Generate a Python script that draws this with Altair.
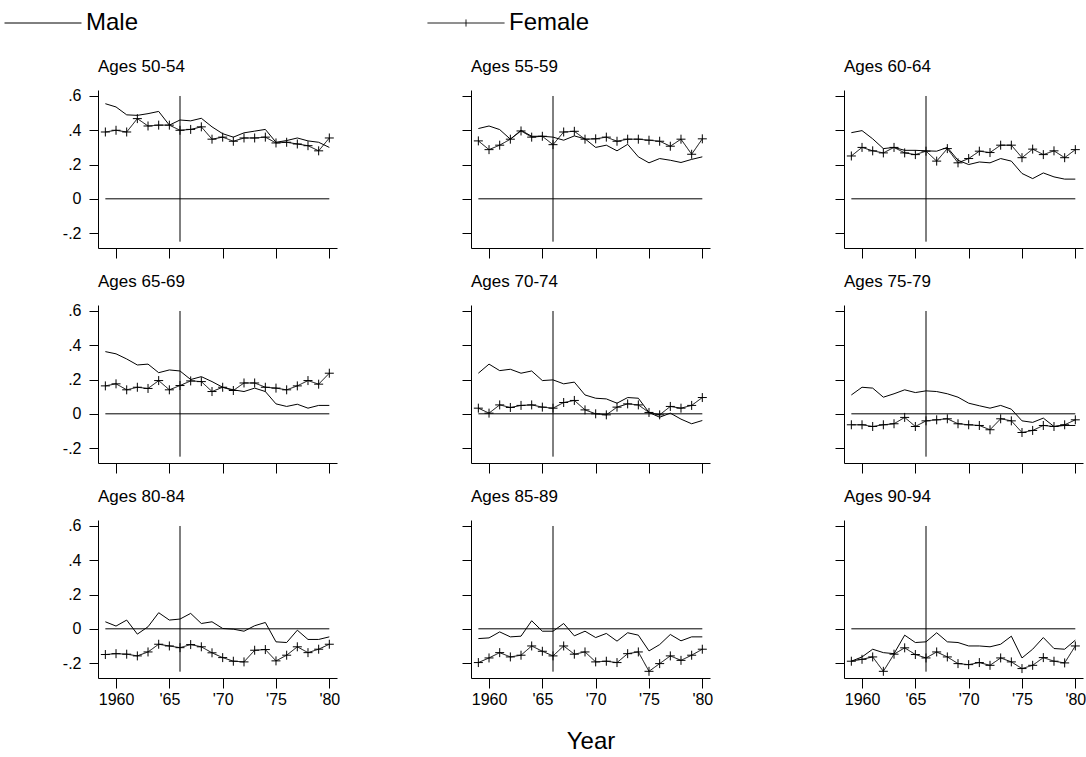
import altair as alt
import pandas as pd

FONT = "Liberation Sans, Arial, sans-serif"

YEARS = list(range(1959, 1981))
GROUPS = ["Ages 50-54", "Ages 55-59", "Ages 60-64",
          "Ages 65-69", "Ages 70-74", "Ages 75-79",
          "Ages 80-84", "Ages 85-89", "Ages 90-94"]
SERIES = ["Male", "Female"]

male_50_54 = [0.555, 0.536, 0.49, 0.487, 0.497, 0.51, 0.43, 0.46, 0.455, 0.47, 0.42,
              0.38, 0.36, 0.385, 0.395, 0.405, 0.33, 0.34, 0.355, 0.338, 0.33, 0.30]
female_50_54 = [0.39, 0.40, 0.39, 0.468, 0.425, 0.43, 0.43, 0.40, 0.405, 0.42, 0.348,
                0.36, 0.336, 0.355, 0.355, 0.36, 0.326, 0.33, 0.32, 0.31, 0.28, 0.355]
male_55_59 = [0.41, 0.425, 0.404, 0.348, 0.40, 0.365, 0.365, 0.36, 0.342, 0.367, 0.35,
              0.30, 0.313, 0.28, 0.318, 0.245, 0.21, 0.235, 0.225, 0.212, 0.23, 0.245]
female_55_59 = [0.338, 0.287, 0.313, 0.348, 0.396, 0.36, 0.365, 0.316, 0.39, 0.394, 0.348,
                0.35, 0.36, 0.336, 0.348, 0.348, 0.342, 0.336, 0.307, 0.348, 0.26, 0.35]
male_60_64 = [0.386, 0.398, 0.35, 0.293, 0.30, 0.283, 0.283, 0.28, 0.278, 0.30, 0.225,
              0.20, 0.215, 0.21, 0.235, 0.22, 0.148, 0.118, 0.151, 0.128, 0.115, 0.115]
female_60_64 = [0.25, 0.30, 0.28, 0.268, 0.30, 0.268, 0.258, 0.278, 0.22, 0.293, 0.21,
                0.235, 0.278, 0.27, 0.313, 0.313, 0.24, 0.29, 0.258, 0.28, 0.24, 0.287]
male_65_69 = [0.363, 0.35, 0.32, 0.285, 0.29, 0.24, 0.256, 0.25, 0.20, 0.217, 0.188,
              0.155, 0.14, 0.13, 0.15, 0.13, 0.058, 0.043, 0.056, 0.033, 0.049, 0.049]
female_65_69 = [0.163, 0.175, 0.14, 0.155, 0.148, 0.194, 0.14, 0.165, 0.192, 0.188, 0.13,
                0.155, 0.136, 0.18, 0.18, 0.155, 0.15, 0.14, 0.163, 0.194, 0.173, 0.237]
male_70_74 = [0.237, 0.29, 0.252, 0.26, 0.237, 0.25, 0.194, 0.198, 0.175, 0.185, 0.11,
              0.091, 0.087, 0.062, 0.095, 0.091, 0.008, -0.02, 0.004, -0.031, -0.058, -0.039]
female_70_74 = [0.033, 0.004, 0.052, 0.037, 0.049, 0.052, 0.039, 0.033, 0.066, 0.078, 0.023,
                0.0, -0.006, 0.039, 0.058, 0.052, 0.008, -0.006, 0.043, 0.033, 0.049, 0.095]
male_75_79 = [0.11, 0.155, 0.15, 0.097, 0.117, 0.14, 0.124, 0.134, 0.13, 0.117, 0.097,
              0.062, 0.047, 0.033, 0.049, 0.027, -0.041, -0.05, -0.025, -0.074, -0.068, -0.068]
female_75_79 = [-0.064, -0.064, -0.074, -0.064, -0.058, -0.021, -0.074, -0.041, -0.035, -0.029, -0.058,
                -0.064, -0.068, -0.093, -0.029, -0.041, -0.109, -0.097, -0.068, -0.074, -0.064, -0.035]
male_80_84 = [0.041, 0.016, 0.051, -0.031, 0.012, 0.094, 0.051, 0.057, 0.09, 0.031, 0.041,
              0.002, -0.002, -0.014, 0.018, 0.037, -0.076, -0.08, -0.008, -0.062, -0.062, -0.047]
female_80_84 = [-0.15, -0.145, -0.148, -0.158, -0.135, -0.09, -0.10, -0.11, -0.092, -0.105, -0.14,
                -0.168, -0.189, -0.193, -0.125, -0.121, -0.187, -0.154, -0.105, -0.139, -0.119, -0.09]
male_85_89 = [-0.057, -0.053, -0.018, -0.047, -0.043, 0.047, -0.014, -0.014, 0.031, -0.041, -0.014,
              -0.051, -0.027, -0.072, -0.023, -0.037, -0.129, -0.092, -0.033, -0.07, -0.047, -0.047]
female_85_89 = [-0.197, -0.17, -0.139, -0.164, -0.154, -0.10, -0.131, -0.158, -0.10, -0.148, -0.135,
                -0.193, -0.189, -0.197, -0.145, -0.135, -0.248, -0.203, -0.158, -0.184, -0.154, -0.119]
male_90_94 = [-0.189, -0.164, -0.119, -0.139, -0.145, -0.037, -0.08, -0.076, -0.023, -0.076, -0.08,
              -0.10, -0.10, -0.105, -0.09, -0.043, -0.17, -0.119, -0.051, -0.115, -0.119, -0.066]
female_90_94 = [-0.189, -0.178, -0.164, -0.248, -0.148, -0.111, -0.15, -0.17, -0.135, -0.164, -0.203,
                -0.209, -0.197, -0.213, -0.17, -0.193, -0.232, -0.213, -0.168, -0.189, -0.199, -0.10]

MALE = [male_50_54, male_55_59, male_60_64, male_65_69, male_70_74,
        male_75_79, male_80_84, male_85_89, male_90_94]
FEMALE = [female_50_54, female_55_59, female_60_64, female_65_69, female_70_74,
          female_75_79, female_80_84, female_85_89, female_90_94]

EVENT_YEAR = [1966]
EVENT_LOW = [-0.25]
EVENT_HIGH = [0.6]
ZERO_START = [1959]
ZERO_END = [1980]
ZERO_LEVEL = [0.0]

X_TICKS = [1960, 1965, 1970, 1975, 1980]
Y_TICKS = [-0.2, 0.0, 0.2, 0.4, 0.6]
X_DOMAIN = [1958.31, 1980.72]
Y_DOMAIN = [-0.287, 0.635]

rows = []
for g, m, f in zip(GROUPS, MALE, FEMALE):
    for yr, v in zip(YEARS, m):
        rows.append({"group": g, "year": yr, "sex": "Male", "value": v})
    for yr, v in zip(YEARS, f):
        rows.append({"group": g, "year": yr, "sex": "Female", "value": v})
df = pd.DataFrame(rows)

vdf = pd.DataFrame({"x": EVENT_YEAR, "y": EVENT_LOW, "y2": EVENT_HIGH})
hdf = pd.DataFrame({"x": ZERO_START, "x2": ZERO_END, "y": ZERO_LEVEL})

PLUS = "M-1,0L1,0M0,-1L0,1"

LEG_COMMON = dict(
    title=None, orient="none", legendY=-79, direction="horizontal",
    symbolSize=100, symbolOffset=26, labelOffset=31,
    labelFontSize=24, labelFont=FONT, labelColor="black", padding=0,
    symbolStrokeWidth=1, symbolStrokeColor="black",
)
legend_male = alt.Legend(legendX=-93, symbolType="M-7.7,0L7.7,0", **LEG_COMMON)
legend_female = alt.Legend(legendX=330, symbolType="M-7.7,0L7.7,0M0,-0.7L0,0.7", **LEG_COMMON)

XLABEL = "datum.value == 1960 ? '1960' : \"'\" + substring(toString(datum.value), 2, 4)"
YLABEL = "datum.value == 0 ? '0' : (datum.value < 0 ? '-' : '') + '.' + round(abs(datum.value) * 10)"

AXIS_STYLE = dict(labelFont=FONT, labelFontSize=16, labelColor="black",
                  tickColor="black", domainColor="black", tickWidth=1, domainWidth=1,
                  grid=False)


def panel(i):
    g = GROUPS[i]
    r, c = divmod(i, 3)
    xscale = alt.Scale(domain=X_DOMAIN, nice=False, zero=False)
    yscale = alt.Scale(domain=Y_DOMAIN, nice=False, zero=False)
    xaxis_kw = dict(values=X_TICKS, labels=(r == 2), labelExpr=XLABEL, tickSize=10,
                    labelPadding=3, **AXIS_STYLE)
    if r == 2 and c == 1:
        xaxis = alt.Axis(title="Year", titleFontSize=24, titleFont=FONT,
                         titleFontWeight="normal", titleColor="black", titlePadding=22,
                         **xaxis_kw)
    else:
        xaxis = alt.Axis(title=None, **xaxis_kw)
    yaxis = alt.Axis(title=None, values=Y_TICKS, labels=(c == 0), labelExpr=YLABEL,
                     tickSize=9, labelPadding=8, **AXIS_STYLE)

    base = alt.Chart(df).transform_filter(alt.datum.group == g)
    ex = alt.X("year:Q", scale=xscale, axis=xaxis)
    ey = alt.Y("value:Q", scale=yscale, axis=yaxis)

    male_line = base.transform_filter(alt.datum.sex == SERIES[0]).mark_line(strokeWidth=1).encode(
        x=ex, y=ey,
        color=alt.Color("sex:N", scale=alt.Scale(domain=[SERIES[0]], range=["black"]),
                        legend=legend_male))
    female_line = base.transform_filter(alt.datum.sex == SERIES[1]).mark_line(
        strokeWidth=1, color="black").encode(
        x=ex, y=ey,
        strokeDash=alt.StrokeDash("sex:N", scale=alt.Scale(domain=[SERIES[1]], range=[[1, 0]]),
                                  legend=legend_female))
    pts = base.transform_filter(alt.datum.sex == SERIES[1]).mark_point(
        shape=PLUS, size=81, filled=False, strokeWidth=1, color="black", opacity=1
    ).encode(x=ex, y=ey)
    vline = alt.Chart(vdf).mark_rule(color="black", strokeWidth=1).encode(
        x=alt.X("x:Q", scale=xscale, axis=xaxis),
        y=alt.Y("y:Q", scale=yscale, axis=yaxis), y2="y2:Q")
    hline = alt.Chart(hdf).mark_rule(color="black", strokeWidth=1).encode(
        x=alt.X("x:Q", scale=xscale, axis=xaxis), x2="x2:Q",
        y=alt.Y("y:Q", scale=yscale, axis=yaxis))

    title = alt.TitleParams(g, anchor="start", frame="group", fontSize=17, font=FONT,
                            fontWeight="normal", color="black",
                            offset=12 if c == 0 else 14)
    return alt.layer(hline, vline, male_line, female_line, pts).properties(
        width=239, height=158, title=title)


chart = alt.concat(
    *[panel(i) for i in range(9)], columns=3,
    spacing=alt.RowColnumber(row=57, column=134), bounds="flush",
).resolve_legend(color="shared", strokeDash="shared").properties(
    padding={"left": 5, "top": 11, "right": 0, "bottom": 2},
    background="white",
).configure_view(strokeOpacity=0, strokeWidth=0)

chart.save("out.html", embed_options={"renderer": "svg", "actions": False})
